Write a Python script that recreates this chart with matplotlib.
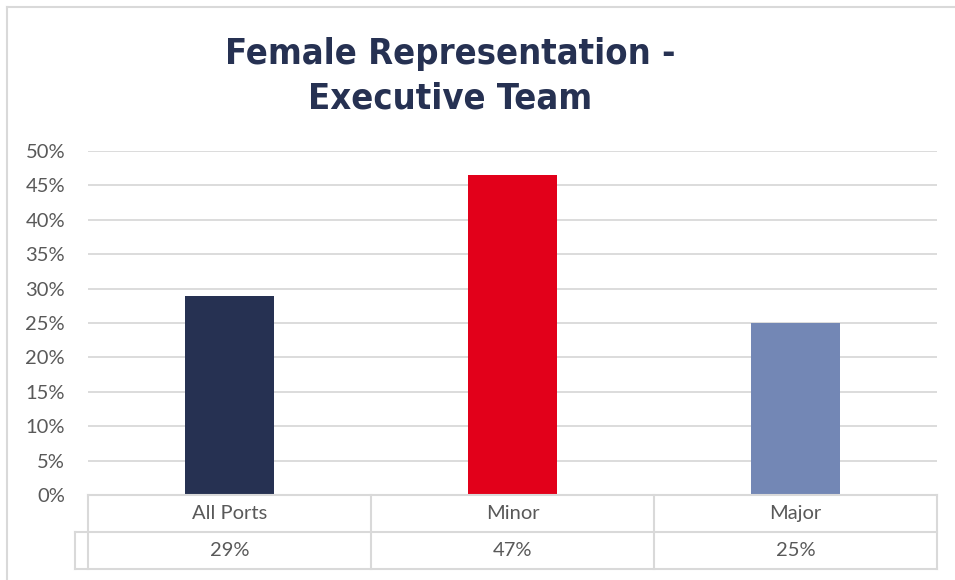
import numpy as np
import matplotlib.pyplot as plt
from matplotlib.lines import Line2D

# data
categories = ['All Ports', 'Minor', 'Major']
values = [28.9, 46.5, 25.0]
table_labels = ['29%', '47%', '25%']
colors = ['#263152', '#E2001A', '#7387B5']

W, H = 955, 580
fig = plt.figure(figsize=(W / 100, H / 100), dpi=100)

# plot area in pixel coords
x0, x1 = 88, 937
y_top, y_bot = 151, 495
ax = fig.add_axes([x0 / W, 1 - y_bot / H, (x1 - x0) / W, (y_bot - y_top) / H])

x = np.arange(len(categories))
ax.bar(x, values, width=0.315, color=colors, zorder=3)
ax.set_xlim(-0.5, len(categories) - 0.5)
ax.set_ylim(0, 50)
ax.set_yticks(np.arange(0, 51, 5))
ax.set_yticklabels([f'{t}%' for t in range(0, 51, 5)],
                   fontsize=14.5, color='#595959', family='Lato')
ax.set_xticks([])
ax.tick_params(axis='y', length=0, pad=16.5)
ax.grid(axis='y', color='#D9D9D9', linewidth=1.3, zorder=0)
for s in ax.spines.values():
    s.set_visible(False)

# data table under the axis
grid_col = '#D9D9D9'
def fx(px):
    return px / W
def fy(py):
    return 1 - py / H

row0, row1, row2 = 495, 532, 569
col_edges = [x0 + i * (x1 - x0) / 3 for i in range(4)]
lines = [
    ((x0, x1), (row0, row0)),
    ((75, x1), (row1, row1)),
    ((75, x1), (row2, row2)),
    ((75, 75), (row1, row2)),
]
for c in col_edges:
    lines.append(((c, c), (row0, row2)))
for (xa, xb), (ya, yb) in lines:
    fig.add_artist(Line2D([fx(xa), fx(xb)], [fy(ya), fy(yb)],
                          color=grid_col, linewidth=1.5))

for i, (cat, lab) in enumerate(zip(categories, table_labels)):
    cx = (col_edges[i] + col_edges[i + 1]) / 2
    fig.text(fx(cx), fy((row0 + row1) / 2), cat, ha='center', va='center',
             fontsize=14.5, color='#595959', family='Lato')
    fig.text(fx(cx), fy((row1 + row2) / 2), lab, ha='center', va='center',
             fontsize=14.5, color='#595959', family='Lato')

# chart frame (top and left visible)
fig.add_artist(Line2D([fx(7), fx(W)], [fy(7), fy(7)], color=grid_col, linewidth=1.5))
fig.add_artist(Line2D([fx(7), fx(7)], [fy(7), fy(H)], color=grid_col, linewidth=1.5))

fig.text(fx(450), fy(76), 'Female Representation -\nExecutive Team',
         ha='center', va='center', fontsize=26, fontweight='bold',
         fontstretch='condensed', color='#263152', linespacing=1.4)

fig.savefig('out.png', dpi=100)
